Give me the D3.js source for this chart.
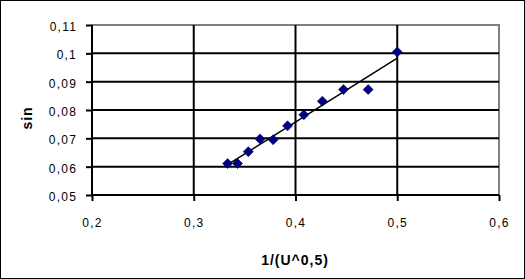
<!DOCTYPE html>
<html>
<head>
<meta charset="utf-8">
<script src="https://cdn.jsdelivr.net/npm/d3@7"></script>
<style>
  body { margin: 0; background: #fff; }
  text { font-family: "Liberation Sans", Arial, sans-serif; }
</style>
</head>
<body>
<script>
'use strict';

// measured points: 1/(U^0,5) vs sin
const xValues = [0.3333, 0.3430, 0.3536, 0.3651, 0.3780, 0.3922, 0.4082, 0.4264, 0.4472, 0.4714, 0.5000];
const yValues = [0.0611, 0.0611, 0.0653, 0.0698, 0.0695, 0.0744, 0.0783, 0.0831, 0.0872, 0.0872, 0.1005];
const xTicks = [0.2, 0.3, 0.4, 0.5, 0.6];
const yTicks = [0.05, 0.06, 0.07, 0.08, 0.09, 0.1, 0.11];

(function() {
  let width = 525, height = 279;
  let svg = d3.select('body').append('svg')
    .attr('width', width)
    .attr('height', height);

  // outer frame
  svg.append('rect')
    .attr('x', 0.5).attr('y', 0.5)
    .attr('width', width - 1).attr('height', height - 1)
    .attr('fill', '#fff').attr('stroke', '#000');

  let xScale = d3.scaleLinear().domain([0.2, 0.6]).range([92, 499]);
  let yScale = d3.scaleLinear().domain([0.05, 0.11]).range([195, 25]);

  // plot area border (grey)
  svg.append('rect')
    .attr('x', xScale(0.2)).attr('y', yScale(0.11))
    .attr('width', xScale(0.6) - xScale(0.2))
    .attr('height', yScale(0.05) - yScale(0.11))
    .attr('fill', 'none').attr('stroke', '#808080').attr('stroke-width', 2);

  // gridlines
  svg.selectAll('.hgrid')
    .data(yTicks.filter((d) => d > 0.05 && d < 0.11))
    .enter().append('line')
      .attr('x1', xScale(0.2)).attr('x2', xScale(0.6))
      .attr('y1', (d) => yScale(d)).attr('y2', (d) => yScale(d))
      .attr('stroke', '#000').attr('stroke-width', 2);

  svg.selectAll('.vgrid')
    .data(xTicks.filter((d) => d > 0.2 && d < 0.6))
    .enter().append('line')
      .attr('x1', (d) => xScale(d)).attr('x2', (d) => xScale(d))
      .attr('y1', yScale(0.11)).attr('y2', yScale(0.05))
      .attr('stroke', '#000').attr('stroke-width', 2);

  let fmt = (d) => String(+d.toFixed(2)).replace('.', ',');

  // x axis
  let xAxis = d3.axisBottom(xScale).tickValues(xTicks).tickFormat(fmt)
    .tickSize(6).tickSizeOuter(0).tickPadding(17);
  let gx = svg.append('g')
    .attr('transform', 'translate(0,' + yScale(0.05) + ')')
    .call(xAxis);
  gx.select('.domain').attr('stroke-width', 2).attr('d', 'M' + xScale(0.2) + ',0H' + xScale(0.6));
  gx.selectAll('.tick line').attr('stroke-width', 2);
  gx.selectAll('text').style('font-size', '12px').style('letter-spacing', '1.2px').attr('fill', '#000');

  // y axis
  let yAxis = d3.axisLeft(yScale).tickValues(yTicks).tickFormat(fmt)
    .tickSize(6).tickSizeOuter(0).tickPadding(9);
  let gy = svg.append('g')
    .attr('transform', 'translate(' + xScale(0.2) + ',0)')
    .call(yAxis);
  gy.select('.domain').attr('stroke-width', 2).attr('d', 'M0,' + yScale(0.11) + 'V' + yScale(0.05));
  gy.selectAll('.tick line').attr('stroke-width', 2);
  gy.selectAll('text').style('font-size', '12px').style('letter-spacing', '1.2px')
    .attr('dy', '0.45em').attr('fill', '#000');

  // linear trendline (least squares)
  let mx = d3.mean(xValues), my = d3.mean(yValues);
  let sxy = d3.sum(xValues.map((x, i) => (x - mx) * (yValues[i] - my)));
  let sxx = d3.sum(xValues.map((x) => (x - mx) * (x - mx)));
  let slope = sxy / sxx, icpt = my - slope * mx;
  let x0 = d3.min(xValues), x1 = d3.max(xValues);
  svg.append('line')
    .attr('x1', xScale(x0)).attr('y1', yScale(icpt + slope * x0))
    .attr('x2', xScale(x1)).attr('y2', yScale(icpt + slope * x1))
    .attr('stroke', '#000').attr('stroke-width', 1.5);

  // diamond markers
  let pts = xValues.map((x, i) => ({x: x, y: yValues[i]}));
  svg.selectAll('.dot')
    .data(pts)
    .enter().append('path')
      .attr('d', 'M0,-5L5,0L0,5L-5,0Z')
      .attr('transform', (d) => 'translate(' + xScale(d.x) + ',' + yScale(d.y) + ')')
      .attr('fill', '#000080').attr('stroke', '#000060').attr('stroke-width', 0.6);

  // axis titles
  svg.append('text')
    .attr('x', 295).attr('y', 265)
    .attr('text-anchor', 'middle')
    .style('font-size', '14px').style('font-weight', 'bold').style('letter-spacing', '1px')
    .text('1/(U^0,5)');

  svg.append('text')
    .attr('transform', 'translate(32,118)rotate(-90)')
    .attr('text-anchor', 'middle')
    .style('font-size', '14px').style('font-weight', 'bold').style('letter-spacing', '1px')
    .text('sin');
})();
</script>
</body>
</html>
